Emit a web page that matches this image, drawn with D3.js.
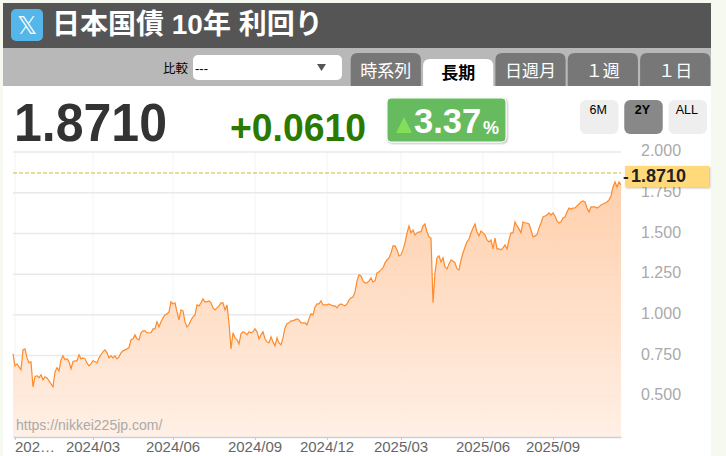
<!DOCTYPE html>
<html>
<head>
<meta charset="utf-8">
<script src="https://cdnjs.cloudflare.com/ajax/libs/d3/7.8.5/d3.min.js"></script>
<style>
html, body { margin: 0; padding: 0; background: #f6f9ef; overflow: hidden; }
svg { display: block; }
text { font-family: "Liberation Sans", Arial, sans-serif; }
.jp { font-family: "Liberation Sans", "Noto Sans CJK JP", sans-serif; }
</style>
</head>
<body>
<div id="chart"></div>
<script>
// Values, one every trading step
var yieldValues = [
    0.761,0.687,0.699,0.681,0.663,0.785,0.791,0.736,0.705,0.712,0.558,0.620,0.626,0.613,0.632,0.601,0.620,0.613,0.595,0.577,
    0.558,0.650,0.675,0.656,0.724,0.748,0.724,0.730,0.712,0.669,0.712,0.718,0.718,0.755,0.730,0.736,0.730,0.705,0.687,0.699,
    0.718,0.712,0.705,0.736,0.755,0.773,0.785,0.767,0.736,0.748,0.736,
    0.748,0.730,0.742,0.767,0.779,0.785,0.791,0.798,0.847,0.853,0.877,0.853,0.847,0.890,0.902,0.902,0.890,0.890,0.890,
    0.914,0.914,0.957,0.926,0.957,0.982,1.000,1.006,1.018,1.080,1.067,1.074,1.018,0.969,1.031,1.025,0.957,0.926,0.939,0.969,
    0.988,1.000,1.061,1.055,1.074,1.098,1.080,1.080,1.086,1.074,1.043,1.031,1.043,1.055,
    1.074,1.074,1.031,1.061,0.951,0.791,0.890,0.859,0.847,0.822,0.883,0.896,0.890,0.877,0.896,0.890,0.896,0.914,0.896,0.853,
    0.877,0.896,0.853,0.834,0.828,0.865,0.834,0.810,0.859,0.828,0.816,0.859,0.920,0.945,0.951,0.963,0.963,0.969,0.975,0.969,
    0.951,0.951,0.951,0.939,0.975,1.006,1.000,1.049,1.067,1.067,1.086,1.061,
    1.061,1.061,1.067,1.061,1.055,1.055,1.043,1.061,1.067,1.061,1.055,1.067,1.092,1.104,1.110,1.141,1.209,1.245,1.239,1.209,
    1.196,1.196,1.209,1.227,1.202,1.209,1.258,1.264,1.276,1.288,1.319,1.337,1.350,1.380,1.423,1.423,1.399,1.362,1.368,1.399,
    1.442,1.503,1.546,1.503,1.521,1.491,1.503,1.509,1.509,1.546,1.558,1.509,
    1.479,1.472,1.074,1.258,1.350,1.362,1.325,1.350,1.294,1.282,1.313,1.337,1.331,1.319,1.282,1.276,1.337,1.380,1.417,1.448,
    1.466,1.503,1.534,1.558,1.509,1.485,1.515,1.503,1.491,1.460,1.448,1.460,1.405,1.472,1.405,1.405,1.399,1.411,1.429,1.405,
    1.460,1.503,1.503,1.571,1.546,1.528,1.503,1.571,1.564,1.564,
    1.558,1.521,1.479,1.485,1.491,1.534,1.564,1.601,1.607,1.613,1.626,1.613,1.626,1.607,1.577,1.564,1.571,1.595,1.601,1.632,
    1.656,1.650,1.656,1.656,1.669,1.681,1.693,1.699,1.693,1.656,1.632,1.663,1.663,1.663,1.656,1.663,1.675,1.681,1.687,1.693,
    1.706,1.730,1.785,1.816,1.785,1.816,1.798
];
var xTickIndex = [1, 40, 80, 121, 157, 194, 235, 270];
var xTickLabels = ["202…", "2024/03", "2024/06", "2024/09", "2024/12", "2025/03", "2025/06", "2025/09"];
var yTicks = [2.0, 1.75, 1.5, 1.25, 1.0, 0.75, 0.5];
var lastValue = 1.871;
var tabLabels = ["時系列", "長期", "日週月", "１週", "１日"];
var rangeLabels = ["6M", "2Y", "ALL"];

var svgWidth = 726;
var svgHeight = 456;
var margin = { top: 152, right: 105, bottom: 19, left: 13 };
var width = svgWidth - margin.left - margin.right;
var height = svgHeight - margin.top - margin.bottom;

var svg = d3.select("#chart").append("svg")
    .attr("width", svgWidth)
    .attr("height", svgHeight);

var defs = svg.append("defs");
var grad = defs.append("linearGradient")
    .attr("id", "areaFill")
    .attr("gradientUnits", "userSpaceOnUse")
    .attr("x1", 0).attr("x2", 0)
    .attr("y1", 0).attr("y2", height);
grad.append("stop").attr("offset", "0%").attr("stop-color", "#ffc69c");
grad.append("stop").attr("offset", "100%").attr("stop-color", "#ffeee2");

var shadow = defs.append("filter").attr("id", "soft")
    .attr("x", "-10%").attr("y", "-10%").attr("width", "125%").attr("height", "130%");
shadow.append("feDropShadow")
    .attr("dx", 1).attr("dy", 1).attr("stdDeviation", 1.2)
    .attr("flood-color", "#000").attr("flood-opacity", 0.3);

// Page panels
svg.append("rect").attr("x", 3).attr("y", 3).attr("width", 708).attr("height", 453).attr("fill", "#fff");
svg.append("rect").attr("x", 3).attr("y", 3).attr("width", 708).attr("height", 45).attr("fill", "#555");
svg.append("rect").attr("x", 3).attr("y", 48).attr("width", 708).attr("height", 38).attr("fill", "#b8b8b8");

// Header
svg.append("rect").attr("x", 11).attr("y", 9).attr("width", 32).attr("height", 32).attr("rx", 5).attr("fill", "#55b6ea");
svg.append("text").attr("x", 27).attr("y", 34).attr("text-anchor", "middle")
    .style("font-family", "DejaVu Sans").attr("font-size", 25).attr("fill", "#fff").text("𝕏");
svg.append("text").attr("class", "jp").attr("x", 52).attr("y", 34)
    .attr("font-size", 28).attr("font-weight", 700).attr("fill", "#fff").text("日本国債 10年 利回り");

// Compare select
svg.append("text").attr("class", "jp").attr("x", 163).attr("y", 73)
    .attr("font-size", 12.5).attr("fill", "#000").text("比較");
svg.append("rect").attr("x", 193).attr("y", 55).attr("width", 149).attr("height", 25).attr("rx", 5).attr("fill", "#fff");
svg.append("text").attr("x", 195).attr("y", 73).attr("font-size", 13).attr("fill", "#000").text("---");
svg.append("path").attr("d", "M317,64 L326,64 L321.5,71 Z").attr("fill", "#555");

// Tabs
var tabX = d3.scaleBand().domain(tabLabels).range([350, 711]).paddingInner(0.03).paddingOuter(0.01);
tabLabels.forEach(function(label, i) {
    var active = label === "長期";
    var top = active ? 59 : 53;
    var x = tabX(label);
    var w = tabX.bandwidth();
    svg.append("path")
        .attr("d", `M${x},86 V${top + 7} Q${x},${top} ${x + 7},${top} H${x + w - 7} Q${x + w},${top} ${x + w},${top + 7} V86 Z`)
        .attr("fill", active ? "#fff" : "#777");
    svg.append("text").attr("class", "jp")
        .attr("x", x + w / 2).attr("y", active ? 79 : 77)
        .attr("text-anchor", "middle")
        .attr("font-size", 17)
        .attr("font-weight", active ? 700 : 400)
        .attr("fill", active ? "#000" : "#fff")
        .text(label);
});

// Quote numbers
svg.append("text").attr("x", 14).attr("y", 141)
    .attr("font-size", 54).attr("font-weight", 700).attr("fill", "#333")
    .attr("textLength", 153).attr("lengthAdjust", "spacingAndGlyphs").text("1.8710");
svg.append("text").attr("x", 230).attr("y", 141)
    .attr("font-size", 39).attr("font-weight", 700).attr("fill", "#2a7a00")
    .attr("textLength", 136).attr("lengthAdjust", "spacingAndGlyphs").text("+0.0610");
svg.append("rect").attr("x", 387).attr("y", 98).attr("width", 119).attr("height", 44).attr("rx", 4)
    .attr("fill", "#66bb5f").attr("stroke", "#fff").attr("filter", "url(#soft)");
svg.append("path").attr("d", "M396,133 L412,133 L404,117 Z").attr("fill", "#84de5a");
svg.append("text").attr("x", 414).attr("y", 133)
    .attr("font-size", 34.5).attr("font-weight", 700).attr("fill", "#fff").text("3.37");
svg.append("text").attr("x", 483).attr("y", 134)
    .attr("font-size", 18).attr("font-weight", 700).attr("fill", "#fff").text("%");

// Range buttons
var rangeX = d3.scaleBand().domain(rangeLabels).range([580, 707]).paddingInner(0.13);
rangeLabels.forEach(function(label) {
    svg.append("rect").attr("x", rangeX(label)).attr("y", 100)
        .attr("width", rangeX.bandwidth()).attr("height", 34).attr("rx", 6)
        .attr("fill", label === "2Y" ? "#888" : "#eee");
    svg.append("text").attr("x", rangeX(label) + rangeX.bandwidth() / 2 - 1).attr("y", 113.5)
        .attr("text-anchor", "middle").attr("font-size", 12.5)
        .attr("font-weight", label === "2Y" ? 700 : 400).attr("fill", "#000").text(label);
});

// Chart
var chartGroup = svg.append("g")
    .attr("transform", `translate(${margin.left}, ${margin.top})`);

var xScale = d3.scaleLinear().domain([0, yieldValues.length - 1]).range([0, width - 0]);
var yScale = d3.scaleLinear().domain([0.25, 2.0]).range([height, 0]);

// Grid lines
chartGroup.append("g").selectAll("line").data(xTickIndex).enter().append("line")
    .attr("x1", d => xScale(d)).attr("x2", d => xScale(d))
    .attr("y1", 0).attr("y2", height)
    .attr("stroke", "#f4f4f4");
chartGroup.append("g").selectAll("line").data(yTicks).enter().append("line")
    .attr("x1", 0).attr("x2", width)
    .attr("y1", d => yScale(d)).attr("y2", d => yScale(d))
    .attr("stroke", "#e9e9e9").attr("stroke-width", 1.5);

var area = d3.area()
    .x((d, i) => xScale(i))
    .y0(height)
    .y1(d => yScale(d));
var line = d3.line()
    .x((d, i) => xScale(i))
    .y(d => yScale(d));

chartGroup.append("path").datum(yieldValues)
    .attr("d", area)
    .attr("fill", "url(#areaFill)")
    .attr("fill-opacity", 0.9);
chartGroup.append("path").datum(yieldValues)
    .attr("d", line)
    .attr("fill", "none")
    .attr("stroke", "#ff8a2b")
    .attr("stroke-width", 1.2);

// Axes
var bottomAxis = d3.axisBottom(xScale)
    .tickValues(xTickIndex)
    .tickFormat((d, i) => xTickLabels[i])
    .tickSizeInner(3)
    .tickSizeOuter(0);
var xAxisGroup = chartGroup.append("g")
    .attr("transform", `translate(0, ${height})`)
    .call(bottomAxis);
xAxisGroup.select(".domain").attr("stroke", "#c8d0dc").attr("stroke-width", 1.5);
xAxisGroup.selectAll(".tick line").attr("stroke", "#b8cce4");
xAxisGroup.selectAll(".tick text")
    .attr("y", 4)
    .attr("dx", -0.5)
    .attr("fill", "#666")
    .attr("font-size", 15)
    .style("font-family", "Liberation Sans");
xAxisGroup.select(".tick text").attr("text-anchor", "start");

var rightAxis = d3.axisRight(yScale)
    .tickValues(yTicks)
    .tickFormat(d3.format(".3f"))
    .tickSize(0);
var yAxisGroup = chartGroup.append("g")
    .attr("transform", `translate(${width + 20}, -1.5)`)
    .call(rightAxis);
yAxisGroup.select(".domain").remove();
yAxisGroup.selectAll(".tick text")
    .attr("x", 0)
    .attr("fill", "#aaa")
    .attr("font-size", 16)
    .style("font-family", "Liberation Sans");

// Last value marker
chartGroup.append("line")
    .attr("x1", 0).attr("x2", width)
    .attr("y1", yScale(lastValue)).attr("y2", yScale(lastValue))
    .attr("stroke", "#cdbb2c").attr("stroke-width", 1.2).attr("stroke-dasharray", "4,2");
chartGroup.append("rect")
    .attr("x", width + 4).attr("y", yScale(lastValue) - 7)
    .attr("width", 84).attr("height", 21)
    .attr("fill", "#ffd97a").attr("filter", "url(#soft)");
chartGroup.append("text")
    .attr("x", width + 2).attr("y", yScale(lastValue) + 9)
    .attr("font-size", 17).attr("font-weight", 700).attr("fill", "#222")
    .text("-");
chartGroup.append("text")
    .attr("x", width + 10).attr("y", yScale(lastValue) + 9)
    .attr("font-size", 18).attr("font-weight", 700).attr("fill", "#222")
    .text(d3.format(".4f")(lastValue));

// Watermark
chartGroup.append("text")
    .attr("x", 3).attr("y", 278)
    .attr("font-size", 14).attr("fill", "#aaa")
    .text("https://nikkei225jp.com/");
</script>
</body>
</html>
